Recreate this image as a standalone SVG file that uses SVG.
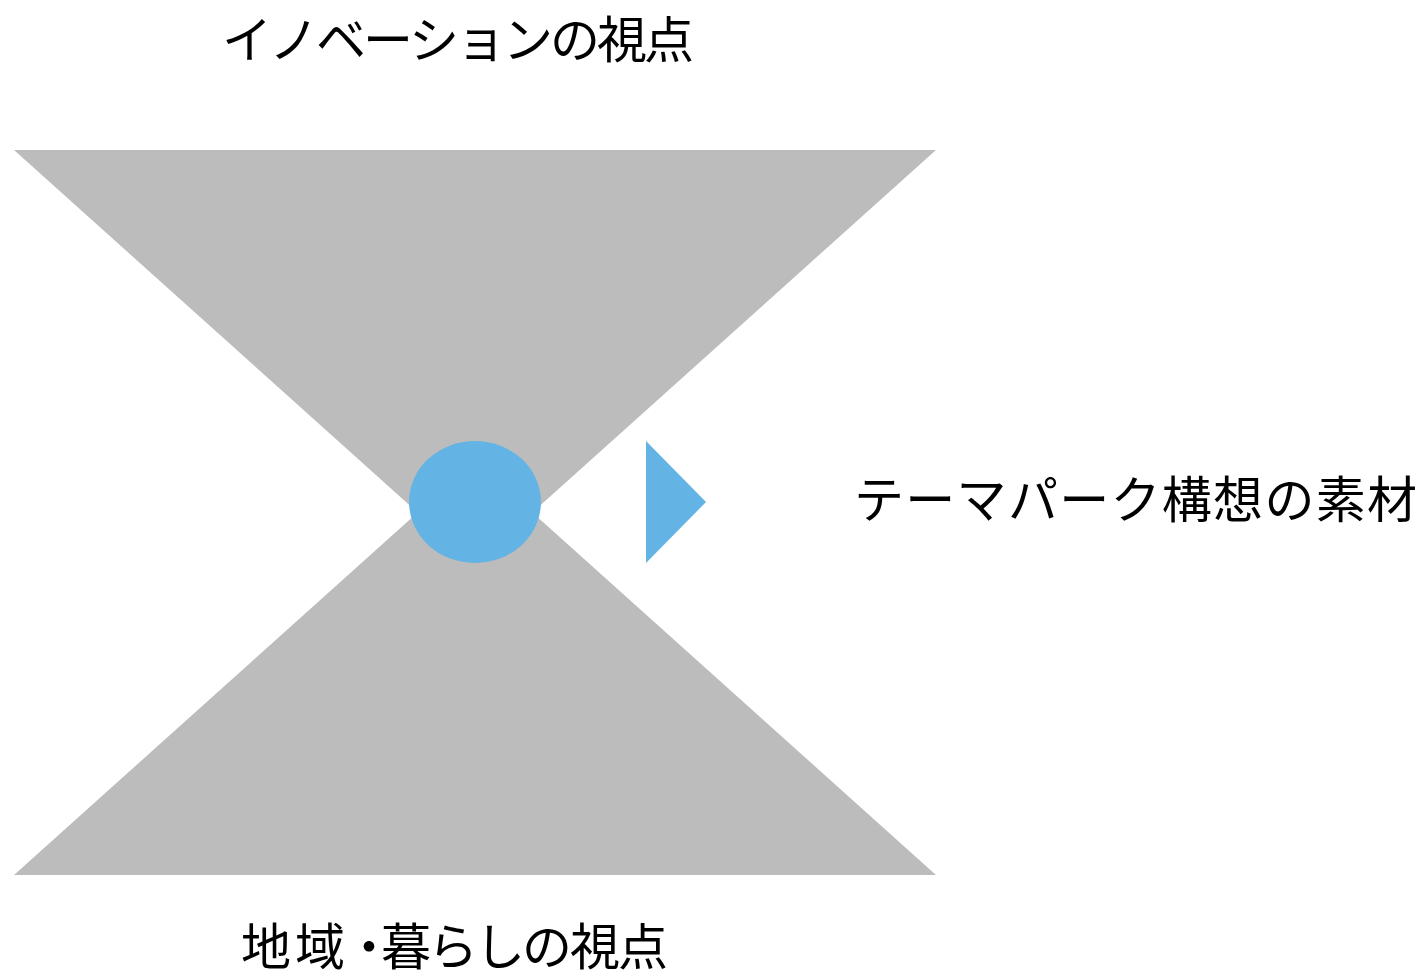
<svg xmlns="http://www.w3.org/2000/svg" width="1422" height="977" viewBox="0 0 1422 977">
<style>
.gray{fill:#BBBCBB}
.blue{fill:#63B4E4}
.lbl{font-family:"Noto Sans CJK JP","Noto Sans CJK SC",sans-serif;font-size:50px;fill:#000}
</style>
<rect width="1422" height="977" fill="#fff"/>
<g id="top-funnel"><polygon class="gray" points="14,150 936,150 475,564"/></g>
<g id="bottom-funnel"><polygon class="gray" points="14,875 936,875 475,461"/></g>
<g id="center"><ellipse class="blue" cx="475" cy="502" rx="66" ry="61"/></g>
<g id="arrow"><polygon class="blue" points="646,441 706,502 646,563"/></g>
<g id="label-top"><text class="lbl" x="222" y="58" textLength="472" lengthAdjust="spacing">イノベーションの視点</text></g>
<g id="label-bottom"><text class="lbl" x="241 295 344 381 428 475 522 570 618" y="965">地域・暮らしの視点</text></g>
<g id="label-right"><text class="lbl" x="854" y="518" textLength="563" lengthAdjust="spacing">テーマパーク構想の素材</text></g>
</svg>
